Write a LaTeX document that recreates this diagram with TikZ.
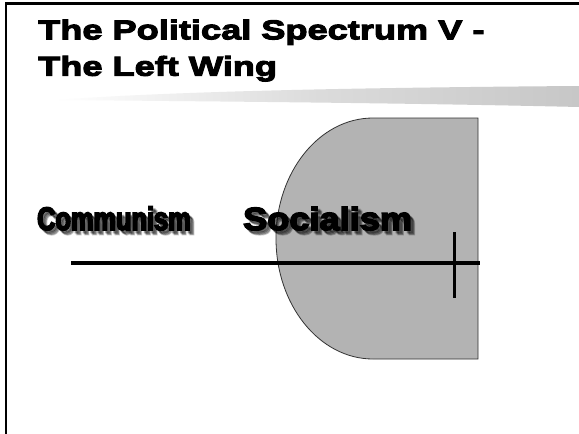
\documentclass[tikz,border=0pt]{standalone}
\usepackage{fontspec}
\setmainfont{Liberation Sans}
\newfontfamily\titlefont[BoldFeatures={FakeBold=4,FakeStretch=1.33}]{Liberation Sans}
\newfontfamily\condfont[BoldFeatures={FakeBold=5,FakeStretch=0.78}]{Liberation Sans}
\newfontfamily\wideblack[BoldFeatures={FakeBold=5,FakeStretch=1.13}]{Liberation Sans}
\usetikzlibrary{shadings}
\definecolor{shapegray}{HTML}{B3B3B3}
\tikzset{
  titletext/.style={anchor=base west, inner sep=0pt, font=\titlefont\bfseries\fontsize{27.2}{30}\selectfont},
  condlabel/.style={anchor=base west, inner sep=0pt, font=\condfont\bfseries\fontsize{32.5}{36}\selectfont},
  blacklabel/.style={anchor=base west, inner sep=0pt, font=\wideblack\bfseries\fontsize{32}{36}\selectfont},
  shadowtext/.style={text=black, opacity=0.22},
  axis/.style={line width=4pt, black},
  tick/.style={line width=3pt, black},
}
\begin{document}
\begin{tikzpicture}[x=1pt,y=-1pt]
\useasboundingbox (0,0) rectangle (579,434);
\fill[white] (0,0) rectangle (579,434);
% frame
\draw[line width=2.2pt] (579,3.5) -- (6,3.5) -- (6,434);
% title
\node[titletext] (t1) at (38,39.3) {The Political Spectrum V -};
\node[titletext] (t2) at (38,75.7) {The Left Wing};
% brush stroke
\shade[left color=white, right color=black!22, middle color=black!14]
  (55,100) .. controls (150,93) and (300,88) .. (579,86)
  -- (579,107) .. controls (450,104) and (300,102) .. (55,100) -- cycle;
% gray D shape
\filldraw[fill=shapegray, draw=black!80, line width=0.8pt]
  (478,118) -- (373,118) arc[start angle=270, end angle=90, x radius=97, y radius=120.5]
  -- (478,359) -- cycle;
% soft shadows for labels
\foreach \dx/\dy in {2.5/2.5,3.5/3.5,4.5/4.5}{
  \node[condlabel, shadowtext] at (37+\dx,230+\dy) {Communism};
  \node[blacklabel, shadowtext] at (243+\dx,230+\dy) {Socialism};
}
\node[condlabel] (comm) at (37,230) {Communism};
\node[blacklabel] (soc) at (243,230) {Socialism};
% axis line and tick
\coordinate (axL) at (71,263);
\coordinate (axR) at (480,263);
\coordinate (tkT) at (454,232);
\coordinate (tkB) at (454,298);
\draw[axis] (axL) -- (axR);
\draw[tick] (tkT) -- (tkB);
\end{tikzpicture}
\end{document}
